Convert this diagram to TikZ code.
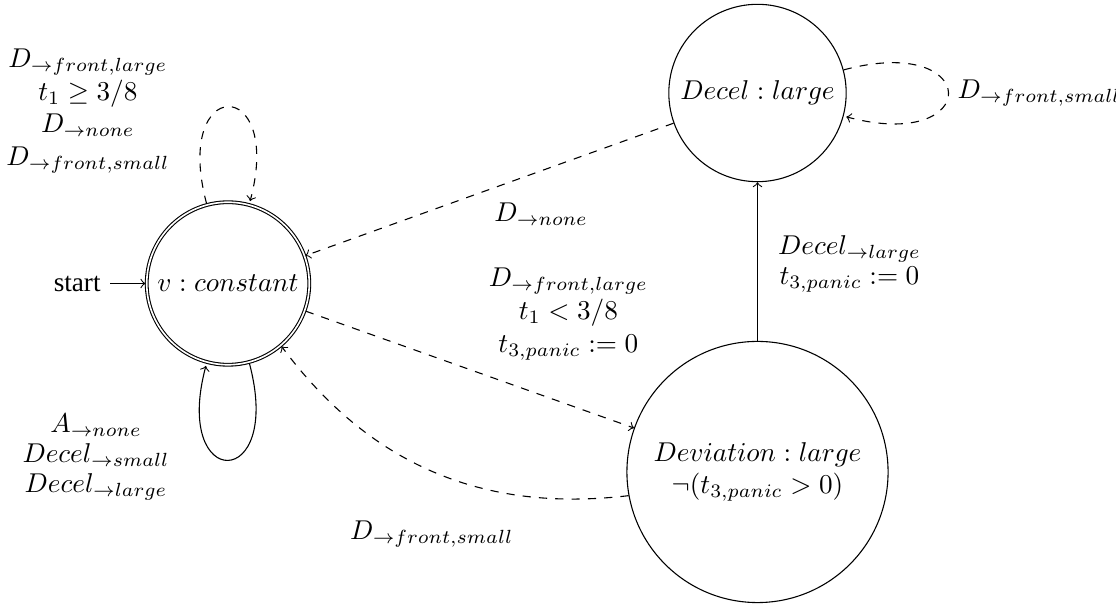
\documentclass[tikz,border=0pt]{standalone}
\usepackage{fontspec}
\newfontfamily\startfont{Liberation Serif}
\usetikzlibrary{automata}
\begin{document}
\begin{tikzpicture}[x=0.3676pt,y=0.3676pt,>=to,
  lbl/.style={align=center,inner sep=0pt,anchor=center}]
\useasboundingbox (0,0) rectangle (1116,604);
\node[state,initial,initial text={\startfont start},accepting,minimum size=57.3pt] (v) at (228,320.5) {$v : constant$};
\node[state,minimum size=63.5pt] (dec) at (757.5,511) {$Decel : large$};
\node[state,minimum size=96pt,align=center] (dev) at (757.5,132) {$Deviation : large$\\$\neg(t_{3,panic} > 0)$};
\path[->]
 (v) edge[loop above,dashed] node[lbl,xshift=-51.5pt,yshift=-1.5pt] {$D_{\to front,large}$\\$t_1\geq 3/8$\\$D_{\to none}$\\$D_{\to front,small}$} ()
 (v) edge[loop below] node[lbl,xshift=-48.5pt,yshift=1pt] {$A_{\to none}$\\[-1pt]$Decel_{\to small}$\\[-1pt]$Decel_{\to large}$} ()
 (dec) edge[dashed] node[lbl,pos=0.36,yshift=-15.8pt] {$D_{\to none}$} (v)
 (v) edge[dashed] node[lbl,pos=0.8,yshift=33.3pt] {$D_{\to front,large}$\\$t_1 < 3/8$\\$t_{3,panic} := 0$} (dev)
 (dev) edge[dashed,bend left=30] node[lbl,xshift=-0.5pt,yshift=-22.8pt] {$D_{\to front,small}$} (v)
 (dev) edge node[lbl,xshift=33.8pt,yshift=-1pt] {$Decel_{\to large}$\\[-1pt]$t_{3,panic} := 0$} (dec)
 (dec) edge[loop right,dashed] node[right] {$D_{\to front,small}$} ();
\end{tikzpicture}
\end{document}
